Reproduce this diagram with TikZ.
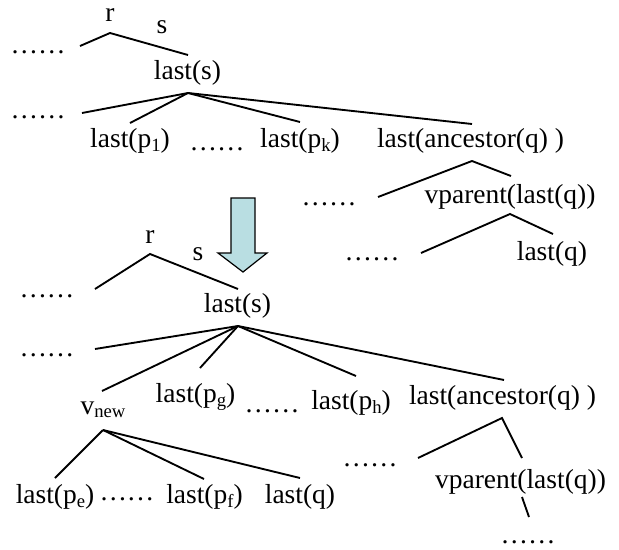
\documentclass[tikz,border=0pt]{standalone}
\usepackage{fontspec}
\setmainfont{Liberation Serif}
\definecolor{arrowblue}{HTML}{B9DEE2}
\newcommand{\lowidx}[1]{\raisebox{-0.28ex}{\fontsize{14}{14}\selectfont #1}}
\tikzset{
  lbl/.style={inner sep=0pt, font=\fontsize{20.6}{24}\selectfont},
  dts/.style={inner sep=0pt, font=\fontsize{20.6}{24}\selectfont},
  edge/.style={line width=1.4pt},
}
\begin{document}
\begin{tikzpicture}[x=0.75pt,y=-0.75pt]
\useasboundingbox (0,0) rectangle (619,550);
% ---------- top tree ----------
\node[lbl] (r1) at (110,15) {r};
\node[lbl] (s1) at (162,27) {s};
\node[dts] (d1) at (38,52) {……};
\coordinate (r1a) at (80,46);
\coordinate (r1t) at (110,33);
\coordinate (r1b) at (188,55);
\draw[edge] (r1a) -- (r1t) -- (r1b);
\node[lbl] (ls1) at (187.5,73) {last(s)};
\coordinate (ls1t) at (188,93);
\node[dts] (d2) at (38,117) {……};
\coordinate (e1) at (82,113);
\coordinate (e2) at (130,123);
\coordinate (e3) at (300,122);
\coordinate (e4) at (472,124);
\draw[edge] (ls1t) -- (e1);
\draw[edge] (ls1t) -- (e2);
\draw[edge] (ls1t) -- (e3);
\draw[edge] (ls1t) -- (e4);
\node[lbl] (p1) at (130,141) {last(p\lowidx{1})};
\node[dts] (d3) at (217,149) {……};
\node[lbl] (pk) at (300,141) {last(p\lowidx{k})};
\node[lbl] (anc1) at (470.5,141) {last(ancestor(q) )};
\coordinate (anc1t) at (472,161);
\coordinate (f1) at (378,197);
\coordinate (f2) at (511,176);
\draw[edge] (f1) -- (anc1t) -- (f2);
\node[dts] (d4) at (329,204) {……};
\node[lbl] (vp1) at (510,197) {vparent(last(q))};
\coordinate (vp1t) at (510,214);
\coordinate (g1) at (421,253);
\coordinate (g2) at (553,234);
\draw[edge] (g1) -- (vp1t) -- (g2);
\node[dts] (d5) at (372,259) {……};
\node[lbl] (lq1) at (552,254) {last(q)};
% ---------- arrow ----------
\draw[fill=arrowblue, line width=0.9pt]
  (231,198) -- (255,198) -- (255,253) -- (267,253) -- (243,272)
  -- (218,253) -- (231,253) -- cycle;
% ---------- bottom tree ----------
\node[lbl] (r2) at (150,237) {r};
\node[lbl] (s2) at (198,254) {s};
\coordinate (r2a) at (95,289);
\coordinate (r2t) at (150,254);
\coordinate (r2b) at (238,289);
\draw[edge] (r2a) -- (r2t) -- (r2b);
\node[dts] (d6) at (47,296) {……};
\node[lbl] (ls2) at (237.5,306) {last(s)};
\coordinate (ls2t) at (238,326);
\node[dts] (d7) at (47,355) {……};
\coordinate (h1) at (95,349);
\coordinate (h2) at (102,391);
\coordinate (h3) at (200,368);
\coordinate (h4) at (356,376);
\coordinate (h5) at (504,380);
\draw[edge] (ls2t) -- (h1);
\draw[edge] (ls2t) -- (h2);
\draw[edge] (ls2t) -- (h3);
\draw[edge] (ls2t) -- (h4);
\draw[edge] (ls2t) -- (h5);
\node[lbl] (vn) at (103,410) {v\lowidx{new}};
\node[lbl] (pg) at (195.5,397) {last(p\lowidx{g})};
\node[dts] (d8) at (272,411) {……};
\node[lbl] (ph) at (351,403) {last(p\lowidx{h})};
\node[lbl] (anc2) at (502.5,398) {last(ancestor(q) )};
\coordinate (vnt) at (103,430);
\coordinate (k1) at (55,478);
\coordinate (k2) at (204,479);
\coordinate (k3) at (300,478);
\draw[edge] (vnt) -- (k1);
\draw[edge] (vnt) -- (k2);
\draw[edge] (vnt) -- (k3);
\coordinate (anc2t) at (502,418);
\coordinate (m1) at (418,458);
\coordinate (m2) at (522,458);
\draw[edge] (m1) -- (anc2t) -- (m2);
\node[dts] (d9) at (370,465) {……};
\node[lbl] (vp2) at (520.5,482) {vparent(last(q))};
\coordinate (n1) at (522,497);
\coordinate (n2) at (529,517);
\draw[edge] (n1) -- (n2);
\node[dts] (d10) at (528,542) {……};
\node[lbl] (pe) at (55,497) {last(p\lowidx{e})};
\node[dts] (d11) at (127,499) {……};
\node[lbl] (pf) at (204.5,497) {last(p\lowidx{f})};
\node[lbl] (lq2) at (300,497) {last(q)};
\end{tikzpicture}
\end{document}
